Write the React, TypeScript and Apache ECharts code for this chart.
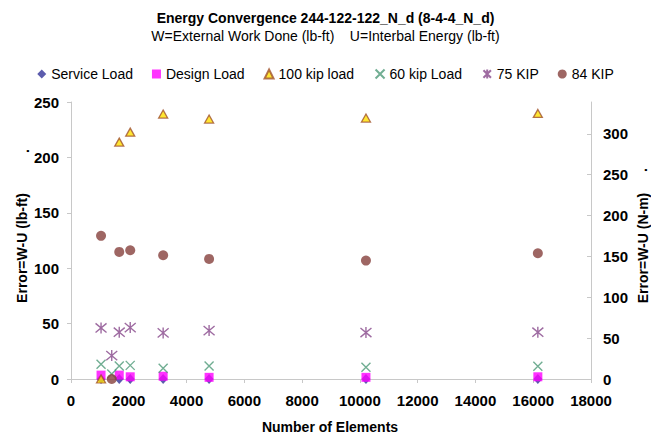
import React, { useEffect, useRef } from "react";
import * as echarts from "echarts";

const elements = [1040, 1410, 1670, 2050, 3190, 4780, 10210, 16160];
const serviceLoad = [0, null, 0, 0, 0, 0, 0, 0];
const designLoad = [3.5, null, 3.5, 2, 2.5, 1.5, 1.5, 2];
const kip100 = [0, null, 213.8, 222.8, 239.1, 234.6, 235.5, 239.7];
const kip60 = [13.3, 4.5, 11.7, 12.3, 9.6, 11.7, 10.5, 11.4];
const kip75 = [46.1, 21.1, 42.2, 46.4, 41.6, 43.7, 41.9, 42.2];
const kip84 = [129.2, 0, 114.7, 116.2, 111.7, 108.4, 106.9, 113.5];
const xTicks = [0, 18000, 2000];
const leftTicks = [0, 250, 50];
const rightTickLabels = [0, 50, 100, 150, 200, 250, 300];
const lbftToNm = 1.35582;

const FONT = "'Liberation Sans', Arial, sans-serif";

function pairs(ys: (number | null)[]) {
  const out: [number, number][] = [];
  ys.forEach((y, i) => {
    if (y !== null) out.push([elements[i], y]);
  });
  return out;
}

export default function App() {
  const ref = useRef<HTMLDivElement>(null);
  useEffect(() => {
    if (!ref.current) return;
    const chart = echarts.init(ref.current, null, { renderer: "svg" });
    const labelStyle = { color: "#000", fontSize: 15, fontWeight: "bold" as const, fontFamily: FONT };
    const axisLine = { show: true, lineStyle: { color: "#c8c8c8", width: 1 } };
    chart.setOption({
      animation: false,
      backgroundColor: "#fff",
      title: {
        text: "Energy Convergence 244-122-122_N_d (8-4-4_N_d)",
        subtext: "W=External Work Done (lb-ft)    U=Interbal Energy (lb-ft)",
        left: "center",
        top: 6,
        itemGap: 4,
        textStyle: { fontSize: 14, fontWeight: "bold", color: "#000", fontFamily: FONT },
        subtextStyle: { fontSize: 14, color: "#000", fontFamily: FONT },
      },
      legend: {
        top: 62,
        left: "center",
        itemWidth: 9,
        itemHeight: 9,
        itemGap: 19,
        textStyle: { fontSize: 14, color: "#000", fontFamily: FONT },
      },
      grid: { left: 71, right: 60, top: 102, bottom: 60 },
      xAxis: {
        type: "value",
        min: xTicks[0],
        max: xTicks[1],
        interval: xTicks[2],
        axisLine,
        axisTick: { show: true, length: 4, lineStyle: { color: "#c8c8c8" } },
        splitLine: { show: false },
        axisLabel: { ...labelStyle, margin: 14, formatter: (v: number) => String(v) },
      },
      yAxis: [
        {
          type: "value",
          min: leftTicks[0],
          max: leftTicks[1],
          interval: leftTicks[2],
          axisLine,
          axisTick: { show: true, length: 4, lineStyle: { color: "#c8c8c8" } },
          splitLine: { show: false },
          axisLabel: { ...labelStyle, margin: 12 },
        },
        {
          type: "value",
          position: "right",
          min: 0,
          max: leftTicks[1] * lbftToNm,
          interval: 50,
          axisLine,
          axisTick: {
            show: true,
            inside: true,
            length: 4,
            customValues: rightTickLabels,
            lineStyle: { color: "#c8c8c8" },
          },
          splitLine: { show: false },
          axisLabel: { ...labelStyle, margin: 12, customValues: rightTickLabels },
        },
      ],
      graphic: [
        {
          type: "text",
          x: 22,
          y: 248,
          rotation: Math.PI / 2,
          style: {
            text: "Error=W-U (lb-ft)",
            font: `bold 14px ${FONT}`,
            fill: "#000",
            textAlign: "center",
            textVerticalAlign: "middle",
          },
        },
        {
          type: "text",
          x: 24,
          y: 151,
          rotation: Math.PI / 2,
          style: { text: ".", font: `bold 14px ${FONT}`, fill: "#000", textAlign: "center", textVerticalAlign: "middle" },
        },
        {
          type: "text",
          x: 643,
          y: 248,
          rotation: Math.PI / 2,
          style: {
            text: "Error=W-U (N-m)",
            font: `bold 14px ${FONT}`,
            fill: "#000",
            textAlign: "center",
            textVerticalAlign: "middle",
          },
        },
        {
          type: "text",
          x: 642,
          y: 170,
          rotation: Math.PI / 2,
          style: { text: ".", font: `bold 14px ${FONT}`, fill: "#000", textAlign: "center", textVerticalAlign: "middle" },
        },
        {
          type: "text",
          x: 330,
          y: 427,
          style: {
            text: "Number of Elements",
            font: `bold 14px ${FONT}`,
            fill: "#000",
            textAlign: "center",
            textVerticalAlign: "middle",
          },
        },
      ],
      series: [
        {
          name: "Service Load",
          type: "scatter",
          symbol: "diamond",
          symbolSize: [9, 10],
          itemStyle: { color: "#333399" },
          data: pairs(serviceLoad),
        },
        {
          name: "Design Load",
          type: "scatter",
          symbol: "rect",
          symbolSize: 9,
          itemStyle: { color: "#FF00FF" },
          data: pairs(designLoad),
        },
        {
          name: "100 kip load",
          type: "scatter",
          symbol: "triangle",
          symbolSize: [9, 8],
          itemStyle: { color: "#FFE000", borderColor: "#A0522D", borderWidth: 1.3 },
          data: pairs(kip100),
        },
        {
          name: "60 kip Load",
          type: "scatter",
          symbol: "path://M0,0L10,10M10,0L0,10",
          symbolSize: 9,
          itemStyle: { color: "none", borderColor: "#4D9A78", borderWidth: 1.4 },
          data: pairs(kip60),
        },
        {
          name: "75 KIP",
          type: "scatter",
          symbol: "path://M0,0L10,10M10,0L0,10M5,-1L5,11",
          symbolSize: 11,
          itemStyle: { color: "none", borderColor: "#86468A", borderWidth: 1.4 },
          data: pairs(kip75),
        },
        {
          name: "84 KIP",
          type: "scatter",
          symbol: "circle",
          symbolSize: 10,
          itemStyle: { color: "#86403C" },
          data: pairs(kip84),
        },
      ],
    });
    return () => chart.dispose();
  }, []);
  return <div ref={ref} style={{ width: 651, height: 439, position: "absolute", left: 0, top: 0 }} />;
}
